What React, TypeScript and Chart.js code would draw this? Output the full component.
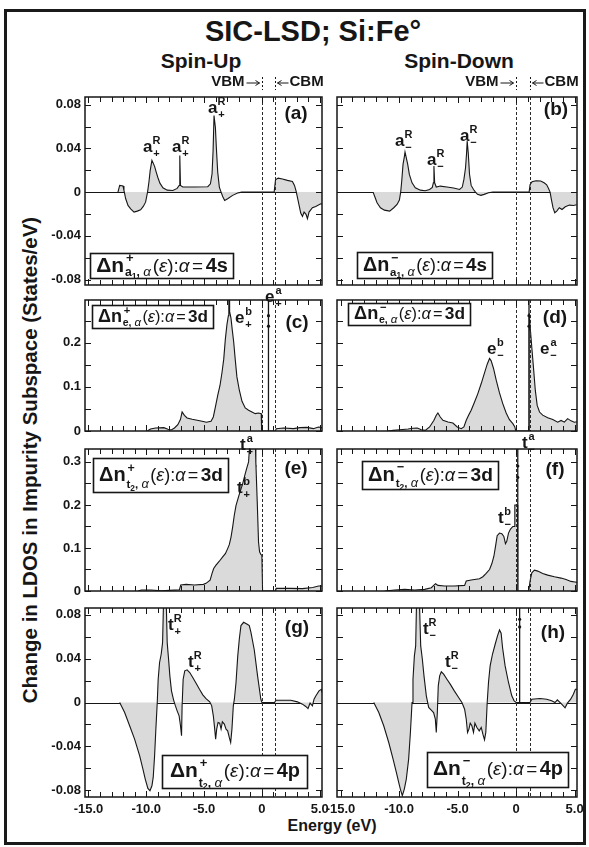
import React, { useEffect, useRef } from 'react';
import { Chart, registerables } from 'chart.js';

Chart.register(...registerables);

type Pt = [number, number];

// ---- shared energy window and band edges (eV) ----
const E_MIN = -15.3;
const E_MAX = 5.2;
const VBM = 0;
const CBM = 1.15;

const ENERGY_TICKS = [-15, -10, -5, 0, 5];
const ENERGY_TICK_TEXT = ['-15.0', '-10.0', '-5.0', '0', '5.0'];

const S_TICKS = [-0.08, -0.04, 0, 0.04, 0.08];
const S_TICK_TEXT = ['-0.08', '-0.04', '0', '0.04', '0.08'];
const E_TICKS = [0, 0.1, 0.2];
const E_TICK_TEXT = ['0', '0.1', '0.2'];
const T_TICKS = [0, 0.1, 0.2, 0.3];
const T_TICK_TEXT = ['0', '0.1', '0.2', '0.3'];

// ---- Δn curves: [energy (eV), states/eV] ----
const a1Up: Pt[] = [
  [-12.45, 0], [-12.3, 0.0061], [-12.01, 0.0055], [-11.93, 0.0015], [-11.78, -0.0061], [-11.58, -0.0122],
  [-11.35, -0.0153], [-11.06, -0.0183], [-10.78, -0.0174], [-10.49, -0.0162], [-10.26, -0.0131], [-10.06, -0.0092],
  [-9.89, 0], [-9.77, 0.0092], [-9.66, 0.0198], [-9.51, 0.029], [-9.4, 0.0265], [-9.28, 0.0235], [-9.14, 0.0183],
  [-8.99, 0.0131], [-8.82, 0.0082], [-8.56, 0.004], [-8.19, 0.0018], [-7.7, 0.0015], [-7.33, 0.0034], [-7.16, 0.006],
  [-7.1, 0.0335], [-7.04, 0.006], [-6.84, 0.0046], [-5.83, 0.0046], [-4.68, 0.0049], [-4.45, 0.0076], [-4.31, 0.0168],
  [-4.22, 0.038], [-4.14, 0.07], [-4.02, 0.059], [-3.94, 0.041], [-3.82, 0.0183], [-3.68, 0.0046], [-3.53, 0],
  [-3.39, -0.004], [-3.22, -0.0076], [-2.96, -0.0061], [-2.53, -0.003], [-2.1, -0.0009], [-1.75, 0], [1.06, 0],
  [1.18, 0.0113], [1.41, 0.0128], [1.78, 0.0119], [2.21, 0.0107], [2.64, 0.0098], [2.82, 0.0061], [2.96, 0.0009],
  [3.07, -0.0046], [3.22, -0.0122], [3.36, -0.0192], [3.51, -0.0223], [3.65, -0.0183], [3.82, -0.0204],
  [3.94, -0.0244], [4.08, -0.0183], [4.37, -0.0143], [4.66, -0.0131], [5.09, -0.0107], [5.2, -0.011],
];

const a1Down: Pt[] = [
  [-12.22, 0], [-12.07, -0.0043], [-11.88, -0.0098], [-11.59, -0.0143], [-11.25, -0.0165], [-10.8, -0.0174],
  [-10.45, -0.0143], [-10.17, -0.0113], [-9.97, -0.0073], [-9.86, 0], [-9.77, 0.0101], [-9.66, 0.0253],
  [-9.55, 0.0323], [-9.49, 0.0366], [-9.38, 0.0314], [-9.26, 0.0253], [-9.12, 0.0162], [-8.89, 0.0085],
  [-8.61, 0.004], [-8.18, 0.0018], [-7.76, 0.0012], [-7.39, 0.0024], [-7.16, 0.0043], [-7.07, 0.0085],
  [-7.02, 0.0238], [-6.96, 0.0085], [-6.82, 0.0046], [-6.48, 0.0055], [-5.91, 0.0046], [-5.34, 0.0037],
  [-4.83, 0.0024], [-4.6, 0.0046], [-4.46, 0.0116], [-4.32, 0.0223], [-4.23, 0.036], [-4.18, 0.0467],
  [-4.09, 0.036], [-3.98, 0.0162], [-3.84, 0.0061], [-3.64, 0.0024], [-3.47, 0], [-3.3, -0.0021], [-3.01, -0.003],
  [-2.73, -0.0021], [-2.36, -0.0006], [-1.99, 0], [1.11, 0], [1.19, 0.0067], [1.36, 0.0095], [1.7, 0.0104],
  [2.1, 0.0101], [2.39, 0.0085], [2.61, 0.0067], [2.78, 0.003], [2.9, 0], [3.01, -0.0067], [3.15, -0.0143],
  [3.3, -0.0189], [3.47, -0.0174], [3.69, -0.0143], [3.92, -0.0159], [4.2, -0.0134], [4.55, -0.0119],
  [4.89, -0.0122], [5.17, -0.0116],
];

const eUp: Pt[] = [
  [-9.91, 0], [-9.63, 0.0045], [-9.2, 0.0068], [-8.48, 0.0076], [-8.13, 0.0038], [-7.84, 0.0023], [-7.56, 0.0068],
  [-7.27, 0.0144], [-7.04, 0.0265], [-6.9, 0.0432], [-6.7, 0.0356], [-6.47, 0.0295], [-6.03, 0.0265], [-5.6, 0.0242],
  [-5.17, 0.022], [-4.8, 0.0197], [-4.4, 0.022], [-4.2, 0.0318], [-4.02, 0.0545], [-3.82, 0.081], [-3.62, 0.1038],
  [-3.45, 0.1326], [-3.3, 0.1629], [-3.16, 0.2083], [-3.02, 0.2417], [-2.9, 0.2614], [-2.86, 0.31], [-2.82, 0.31],
  [-2.79, 0.2705], [-2.67, 0.2553], [-2.56, 0.2288], [-2.44, 0.2023], [-2.3, 0.1606], [-2.16, 0.1227],
  [-1.95, 0.0924], [-1.72, 0.0674], [-1.44, 0.0523], [-1.15, 0.047], [-0.86, 0.0432], [-0.57, 0.0394],
  [-0.29, 0.0409], [-0.06, 0.0394], [-0.02, 0], [1.17, 0], [1.24, 0.0053], [1.87, 0.0068], [2.73, 0.0053],
  [3.3, 0.0076], [3.88, 0.0083], [4.45, 0.0053], [4.89, 0.0091], [5.2, 0.0076],
];

const eDown: Pt[] = [
  [-10.94, 0], [-10.51, 0.0015], [-9.94, 0.003], [-9.23, 0.0045], [-8.81, 0.0061], [-8.44, 0.0068], [-8.1, 0.003],
  [-7.76, 0.0015], [-7.39, 0.0091], [-7.02, 0.0242], [-6.82, 0.0356], [-6.68, 0.0409], [-6.48, 0.0318],
  [-6.25, 0.0242], [-5.82, 0.0205], [-5.4, 0.0182], [-5.03, 0.0091], [-4.69, 0.0053], [-4.46, 0.0091],
  [-4.26, 0.0242], [-4.06, 0.0356], [-3.84, 0.047], [-3.55, 0.0659], [-3.27, 0.0848], [-2.98, 0.1076],
  [-2.7, 0.1318], [-2.47, 0.1515], [-2.27, 0.1644], [-2.13, 0.1591], [-1.93, 0.1417], [-1.7, 0.1152],
  [-1.42, 0.0864], [-1.14, 0.0621], [-0.85, 0.0409], [-0.57, 0.0258], [-0.28, 0.0167], [-0.11, 0.0091],
  [-0.03, 0], [1.1, 0], [1.12, 0.267], [1.22, 0.229], [1.36, 0.183], [1.5, 0.138], [1.64, 0.092], [1.8, 0.058],
  [2.0, 0.043], [2.27, 0.036], [2.7, 0.03], [3.13, 0.026], [3.55, 0.02], [3.84, 0.024], [4.12, 0.02],
  [4.4, 0.028], [4.69, 0.023], [4.97, 0.02], [5.2, 0.021],
];

const t2dUp: Pt[] = [
  [-10.72, 0], [-10.43, 0.0023], [-9.57, 0.0023], [-8.71, 0.0005], [-7.99, 0.0015], [-7.13, 0.003], [-7.02, 0.0138],
  [-6.55, 0.0154], [-5.83, 0.0138], [-5.06, 0.0154], [-4.83, 0.0177], [-4.48, 0.0254], [-4.31, 0.0408],
  [-4.17, 0.0523], [-3.97, 0.06], [-3.68, 0.0692], [-3.39, 0.0792], [-3.16, 0.0869], [-2.96, 0.0985],
  [-2.82, 0.1077], [-2.67, 0.1254], [-2.53, 0.1485], [-2.39, 0.1754], [-2.24, 0.1985], [-2.01, 0.22],
  [-1.81, 0.2369], [-1.67, 0.2485], [-1.49, 0.2677], [-1.32, 0.2846], [-1.15, 0.3], [-1.03, 0.35], [-0.57, 0.35],
  [-0.52, 0.298], [-0.4, 0.206], [-0.29, 0.114], [-0.2, 0.091], [-0.09, 0.085], [0, 0.083], [0.06, 0], [1.2, 0],
  [1.23, 0.006], [2.5, 0.006], [3.5, 0.0055], [4.4, 0.008], [4.9, 0.0115], [5.2, 0.0115],
];

const t2dDown: Pt[] = [
  [-11.22, 0], [-10.37, 0.0023], [-9.52, 0.0038], [-8.66, 0.0023], [-7.81, 0.0038], [-7.24, 0.0077],
  [-7.02, 0.0138], [-6.88, 0.0169], [-6.68, 0.0131], [-6.11, 0.0115], [-5.26, 0.0115], [-4.4, 0.0131],
  [-4.26, 0.0231], [-3.84, 0.0254], [-3.13, 0.0285], [-2.84, 0.0331], [-2.56, 0.0408], [-2.27, 0.05],
  [-2.07, 0.0638], [-1.9, 0.0808], [-1.76, 0.1038], [-1.62, 0.1285], [-1.42, 0.1346], [-1.22, 0.1331],
  [-1.05, 0.1269], [-0.91, 0.11], [-0.8, 0.1154], [-0.65, 0.1346], [-0.48, 0.1438], [-0.28, 0.15], [-0.17, 0.15],
  [-0.11, 0.2], [0.12, 0.2], [0.14, 0], [1.08, 0], [1.19, 0.023], [1.34, 0.0423], [1.56, 0.0485], [1.85, 0.0462],
  [2.27, 0.0408], [2.7, 0.0369], [3.27, 0.0331], [3.84, 0.03], [4.26, 0.0269], [4.69, 0.0223], [5.03, 0.0208],
  [5.2, 0.02],
];

const t2pUp: Pt[] = [
  [-12.3, 0], [-11.87, -0.0091], [-11.44, -0.0212], [-11.01, -0.0333], [-10.57, -0.0485], [-10.29, -0.0606],
  [-10.09, -0.0697], [-9.86, -0.0782], [-9.68, -0.0803], [-9.51, -0.0758], [-9.4, -0.0682], [-9.28, -0.0485],
  [-9.17, -0.0242], [-9.05, 0], [-8.97, 0.0212], [-8.85, 0.0364], [-8.71, 0.0439], [-8.59, 0.0545], [-8.5, 0.095],
  [-8.28, 0.095], [-8.19, 0.0545], [-8.07, 0.0394], [-7.96, 0.0242], [-7.82, 0.0106], [-7.64, 0.0024],
  [-7.5, -0.0024], [-7.33, -0.0076], [-7.16, -0.0121], [-7.04, -0.0212], [-6.95, -0.0303], [-6.9, -0.003],
  [-6.81, 0.0212], [-6.67, 0.0288], [-6.47, 0.0297], [-6.24, 0.0273], [-5.98, 0.0227], [-5.69, 0.0176],
  [-5.4, 0.0121], [-5.11, 0.007], [-4.83, 0.0036], [-4.51, 0.0006], [-4.34, -0.003], [-4.2, -0.0121],
  [-4.08, -0.0242], [-4.0, -0.0333], [-3.91, -0.0242], [-3.79, -0.0182], [-3.65, -0.0188], [-3.53, -0.0242],
  [-3.42, -0.0176], [-3.25, -0.0197], [-3.1, -0.0242], [-2.96, -0.0258], [-2.82, -0.0318], [-2.7, -0.0364],
  [-2.59, -0.0242], [-2.47, -0.003], [-2.38, 0.003], [-2.24, 0.018], [-2.09, 0.042], [-1.95, 0.058], [-1.81, 0.07],
  [-1.58, 0.073], [-1.23, 0.071], [-1.09, 0.07], [-0.95, 0.064], [-0.66, 0.048], [-0.37, 0.024], [-0.09, 0.003],
  [0, 0], [1.1, 0], [1.21, 0.002], [2.5, 0.002], [3.07, 0.0006], [3.51, -0.0015], [3.79, -0.0036], [3.99, -0.0055],
  [4.17, -0.0006], [4.37, -0.003], [4.51, 0.003], [4.66, 0.006], [4.94, 0.0106], [5.14, 0.012], [5.2, 0.009],
];

const t2pDown: Pt[] = [
  [-12.16, 0], [-11.73, -0.0091], [-11.31, -0.0212], [-10.88, -0.0364], [-10.51, -0.0515], [-10.23, -0.0636],
  [-10.03, -0.0727], [-9.89, -0.0788], [-9.72, -0.0848], [-9.55, -0.0788], [-9.38, -0.0697], [-9.18, -0.0515],
  [-9.03, -0.0273], [-8.89, 0], [-8.81, 0.0212], [-8.69, 0.0424], [-8.58, 0.0515], [-8.5, 0.095], [-8.27, 0.095],
  [-8.15, 0.0515], [-8.01, 0.0394], [-7.87, 0.0242], [-7.67, 0.0061], [-7.47, -0.0045], [-7.27, -0.0067],
  [-7.05, -0.0091], [-6.9, -0.0152], [-6.82, -0.0273], [-6.73, -0.0091], [-6.65, 0.0152], [-6.53, 0.0242],
  [-6.39, 0.0279], [-6.19, 0.0258], [-5.91, 0.0212], [-5.63, 0.0167], [-5.28, 0.0106], [-4.91, 0.0045],
  [-4.63, 0], [-4.4, -0.0061], [-4.26, -0.0152], [-4.15, -0.0273], [-4.03, -0.0242], [-3.92, -0.0188],
  [-3.78, -0.0212], [-3.64, -0.0273], [-3.52, -0.0188], [-3.35, -0.0227], [-3.15, -0.0258], [-2.98, -0.0227],
  [-2.84, -0.0288], [-2.7, -0.0339], [-2.59, -0.0273], [-2.47, 0], [-2.36, 0.0182], [-2.22, 0.0333],
  [-2.02, 0.0439], [-1.79, 0.053], [-1.59, 0.0606], [-1.42, 0.066], [-1.28, 0.063], [-1.16, 0.05], [-0.94, 0.0333],
  [-0.65, 0.0182], [-0.37, 0.0061], [-0.17, 0.0015], [0, 0], [1.19, 0], [1.34, 0.003], [2.05, 0.0036],
  [2.61, 0.003], [3.04, 0.0015], [3.32, 0], [3.52, 0.0024], [3.89, -0.0015], [4.18, -0.0048], [4.38, -0.0006],
  [4.66, 0.003], [4.89, 0.0076], [5.06, 0.0121], [5.2, 0.012],
];

// sharp impurity levels (eV) drawn as vertical lines
const eUpLevels = [0.57];
const eDownLevels = [1.1];
const t2dUpLevels = [-0.6];
const t2dDownLevels = [0.14];
const t2pDownLevels = [0.3];

// state labels: anchor at (energy, value) = left edge / baseline of the letter
type Tag = { e: number; v: number; base: string; sup: string; sub: string };
const a1UpTags: Tag[] = [
  { e: -10.28, v: 0.037, base: 'a', sup: 'R', sub: '+' },
  { e: -7.77, v: 0.037, base: 'a', sup: 'R', sub: '+' },
  { e: -4.66, v: 0.0723, base: 'a', sup: 'R', sub: '+' },
];
const a1DownTags: Tag[] = [
  { e: -10.35, v: 0.042, base: 'a', sup: 'R', sub: '\u2212' },
  { e: -7.61, v: 0.0247, base: 'a', sup: 'R', sub: '\u2212' },
  { e: -4.8, v: 0.0467, base: 'a', sup: 'R', sub: '\u2212' },
];
const eUpTags: Tag[] = [
  { e: -2.32, v: 0.245, base: 'e', sup: 'b', sub: '+' },
  { e: 0.27, v: 0.2925, base: 'e', sup: 'a', sub: '+' },
];
const eDownTags: Tag[] = [
  { e: -2.49, v: 0.175, base: 'e', sup: 'b', sub: '\u2212' },
  { e: 2.04, v: 0.175, base: 'e', sup: 'a', sub: '\u2212' },
];
const t2dUpTags: Tag[] = [
  { e: -2.15, v: 0.228, base: 't', sup: 'b', sub: '+' },
  { e: -1.89, v: 0.328, base: 't', sup: 'a', sub: '+' },
];
const t2dDownTags: Tag[] = [
  { e: -1.55, v: 0.158, base: 't', sup: 'b', sub: '\u2212' },
  { e: 0.5, v: 0.332, base: 't', sup: 'a', sub: '\u2212' },
];
const t2pUpTags: Tag[] = [
  { e: -8.12, v: 0.066, base: 't', sup: 'R', sub: '+' },
  { e: -6.39, v: 0.0322, base: 't', sup: 'R', sub: '+' },
];
const t2pDownTags: Tag[] = [
  { e: -7.96, v: 0.062, base: 't', sup: 'R', sub: '\u2212' },
  { e: -6.08, v: 0.032, base: 't', sup: 'R', sub: '\u2212' },
];

// ---- layout ----
const FONT = '"Liberation Sans", Arial, Helvetica, sans-serif';
const bold = (s: number) => `bold ${s}px ${FONT}`;
const plain = (s: number) => `${s}px ${FONT}`;
const ital = (s: number) => `italic ${s}px ${FONT}`;

const COL_L = [85, 337];
const COL_R = [322, 577];
const ROW_T = [97, 300, 449, 608];
const ROW_B = [285, 431, 591, 797];
const Y_AXIS_W = 50;
const X_AXIS_H = 22;
const PAD_T = 28;
const PAD_R = 14;
const PAD_B = 30;

const INK = '#161616';
const FILL = '#dadada';

type BoxSpec = {
  sign: string; orb: 'a1' | 'e' | 't2'; shell: string;
  rect: [number, number, number, number]; baseFrac: number; subDrop: number;
};

type PanelCfg = {
  letter: string; col: number; row: number; curve: Pt[]; levels: number[]; tags: Tag[];
  yMin: number; yMax: number; yStep: number; yTicks: number[]; yText: string[];
  zeroLine: boolean; box: BoxSpec; letterAt: [number, number];
};

const SUBSCRIPT_RUNS: Record<string, [string, number, number, boolean][]> = {
  a1: [['a', 0.58, 0, false], ['1', 0.42, 0.12, false], [', ', 0.58, 0, false], ['\u03b1', 0.64, 0, true]],
  e: [['e', 0.58, 0, false], [', ', 0.58, 0, false], ['\u03b1', 0.64, 0, true]],
  t2: [['t', 0.58, 0, false], ['2', 0.42, 0.12, false], [', ', 0.58, 0, false], ['\u03b1', 0.64, 0, true]],
};

function layoutBox(ctx: CanvasRenderingContext2D, S: number, b: BoxSpec, x0: number, by: number, draw: boolean) {
  let cx = x0;
  const run = (t: string, font: string, dy = 0) => {
    ctx.font = font;
    const w = ctx.measureText(t).width;
    if (draw) ctx.fillText(t, cx, by + dy);
    cx += w;
  };
  run('\u0394n', bold(S));
  cx += S * 0.04;
  const sx0 = cx;
  ctx.font = bold(S * 0.62);
  const supW = ctx.measureText(b.sign).width;
  if (draw) ctx.fillText(b.sign, sx0 + 1, by - S * 0.47);
  let sx = sx0;
  for (const [t, k, dy, it] of SUBSCRIPT_RUNS[b.orb]) {
    ctx.font = it ? ital(S * k) : bold(S * k);
    const w = ctx.measureText(t).width;
    if (draw) ctx.fillText(t, sx, by + b.subDrop * S + dy * S);
    sx += w;
  }
  cx = Math.max(sx0 + supW + 1, sx) + S * 0.08;
  const T = S * 0.9;
  run('(', plain(T)); run('\u03b5', ital(T)); run(')', plain(T)); run(':', plain(T)); run('\u03b1', ital(T));
  cx += S * 0.12; run('=', plain(T)); cx += S * 0.12;
  run(b.shell, bold(S * 0.95));
  return cx - x0;
}

function drawBox(ctx: CanvasRenderingContext2D, left: number, top: number, b: BoxSpec) {
  const [dx, dy, w, h] = b.rect;
  const x = left + dx, y = top + dy;
  ctx.save();
  ctx.fillStyle = '#fff';
  ctx.fillRect(x, y, w, h);
  ctx.lineWidth = 1.6;
  ctx.strokeStyle = INK;
  ctx.strokeRect(x + 0.5, y + 0.5, w, h);
  ctx.fillStyle = INK;
  ctx.textAlign = 'left';
  ctx.textBaseline = 'alphabetic';
  const w20 = layoutBox(ctx, 20, b, 0, 0, false);
  const S = Math.min(21, (20 * (w - 11)) / w20);
  const W = layoutBox(ctx, S, b, 0, 0, false);
  layoutBox(ctx, S, b, x + (w - W) / 2 + 0.5, y + h * b.baseFrac, true);
  ctx.restore();
}

function drawTag(ctx: CanvasRenderingContext2D, px: number, py: number, t: Tag) {
  ctx.textAlign = 'left';
  ctx.textBaseline = 'alphabetic';
  ctx.font = bold(17);
  ctx.fillText(t.base, px, py);
  const w = ctx.measureText(t.base).width;
  ctx.font = bold(11);
  ctx.textAlign = 'center';
  const cx = px + w + 4;
  ctx.fillText(t.sup, cx, py - 8);
  ctx.fillText(t.sub, cx, py + 5);
  ctx.textAlign = 'left';
}

function arrow(ctx: CanvasRenderingContext2D, x1: number, x2: number, y: number) {
  const d = x2 > x1 ? 1 : -1;
  ctx.beginPath();
  ctx.moveTo(x1, y);
  ctx.lineTo(x2, y);
  ctx.moveTo(x2 - d * 4, y - 2.5);
  ctx.lineTo(x2, y);
  ctx.lineTo(x2 - d * 4, y + 2.5);
  ctx.stroke();
}

function makeDecor(cfg: PanelCfg) {
  return {
    id: 'panelDecor',
    beforeDatasetsDraw(chart: any) {
      if (!cfg.zeroLine) return;
      const { ctx, chartArea: a, scales } = chart;
      const y0 = Math.round(scales.y.getPixelForValue(0)) + 0.5;
      ctx.save();
      ctx.strokeStyle = INK;
      ctx.lineWidth = 1;
      ctx.beginPath();
      ctx.moveTo(a.left, y0);
      ctx.lineTo(a.right, y0);
      ctx.stroke();
      ctx.restore();
    },
    afterDatasetsDraw(chart: any) {
      const { ctx, chartArea: a, scales } = chart;
      const { x, y } = scales;
      ctx.save();
      // band edges
      ctx.strokeStyle = '#2a2a2a';
      ctx.lineWidth = 1;
      ctx.setLineDash([3, 2]);
      for (const e of [VBM, CBM]) {
        const px = Math.round(x.getPixelForValue(e)) + 0.5;
        ctx.beginPath();
        ctx.moveTo(px, a.top);
        ctx.lineTo(px, a.bottom);
        ctx.stroke();
      }
      ctx.setLineDash([]);
      // frame and inward ticks
      ctx.strokeStyle = INK;
      ctx.lineWidth = 1.5;
      ctx.strokeRect(a.left, a.top, a.right - a.left, a.bottom - a.top);
      ctx.lineWidth = 1;
      ctx.beginPath();
      for (const t of x.ticks) {
        if (t.value < E_MIN || t.value > E_MAX) continue;
        const px = Math.round(x.getPixelForValue(t.value)) + 0.5;
        const len = Math.abs(t.value % 5) < 1e-9 ? 6 : 5;
        ctx.moveTo(px, a.top); ctx.lineTo(px, a.top + len);
        ctx.moveTo(px, a.bottom); ctx.lineTo(px, a.bottom - len);
      }
      for (const t of y.ticks) {
        if (t.value < cfg.yMin || t.value > cfg.yMax) continue;
        const py = Math.round(y.getPixelForValue(t.value)) + 0.5;
        ctx.moveTo(a.left, py); ctx.lineTo(a.left + 6, py);
        ctx.moveTo(a.right, py); ctx.lineTo(a.right - 6, py);
      }
      ctx.stroke();
      // state labels
      ctx.fillStyle = INK;
      for (const t of cfg.tags) drawTag(ctx, x.getPixelForValue(t.e), y.getPixelForValue(t.v), t);
      // projection box and panel letter
      drawBox(ctx, a.left, a.top, cfg.box);
      ctx.fillStyle = INK;
      ctx.font = bold(19);
      ctx.textAlign = 'center';
      ctx.textBaseline = 'middle';
      ctx.fillText(cfg.letter, a.right - cfg.letterAt[0], a.top + cfg.letterAt[1]);
      // VBM / CBM markers over the top row
      if (cfg.row === 0) {
        const xv = Math.round(x.getPixelForValue(VBM)) + 0.5;
        const xc = Math.round(x.getPixelForValue(CBM)) + 0.5;
        const ty = a.top - 15;
        ctx.font = bold(15);
        ctx.textBaseline = 'middle';
        ctx.textAlign = 'right';
        ctx.fillText('VBM', xv - 18, ty);
        ctx.textAlign = 'left';
        ctx.fillText('CBM', xc + 14, ty);
        ctx.lineWidth = 1;
        arrow(ctx, xv - 16, xv - 3, ty + 1);
        arrow(ctx, xc + 13, xc + 2, ty + 1);
        ctx.setLineDash([2, 2]);
        ctx.beginPath();
        ctx.moveTo(xv, ty - 5); ctx.lineTo(xv, ty + 8);
        ctx.moveTo(xc, ty - 5); ctx.lineTo(xc, ty + 8);
        ctx.stroke();
        ctx.setLineDash([]);
      }
      ctx.restore();
    },
  };
}

const ROW0 = { yMin: -0.085, yMax: 0.087, yStep: 0.02, yTicks: S_TICKS, yText: S_TICK_TEXT, zeroLine: true };
const ROW1 = { yMin: 0, yMax: 0.297, yStep: 0.05, yTicks: E_TICKS, yText: E_TICK_TEXT, zeroLine: false };
const ROW2 = { yMin: 0, yMax: 0.33, yStep: 0.05, yTicks: T_TICKS, yText: T_TICK_TEXT, zeroLine: false };
const ROW3 = { yMin: -0.086, yMax: 0.086, yStep: 0.02, yTicks: S_TICKS, yText: S_TICK_TEXT, zeroLine: true };

const PANELS: PanelCfg[] = [
  { letter: '(a)', col: 0, row: 0, curve: a1Up, levels: [], tags: a1UpTags, ...ROW0,
    box: { sign: '+', orb: 'a1', shell: '4s', rect: [5, 156, 143, 25], baseFrac: 0.74, subDrop: 0.22 }, letterAt: [26, 17] },
  { letter: '(b)', col: 1, row: 0, curve: a1Down, levels: [], tags: a1DownTags, ...ROW0,
    box: { sign: '\u2212', orb: 'a1', shell: '4s', rect: [20, 155, 135, 26], baseFrac: 0.74, subDrop: 0.22 }, letterAt: [21, 13] },
  { letter: '(c)', col: 0, row: 1, curve: eUp, levels: eUpLevels, tags: eUpTags, ...ROW1,
    box: { sign: '+', orb: 'e', shell: '3d', rect: [7, 5, 121, 23], baseFrac: 0.74, subDrop: 0.22 }, letterAt: [25, 23] },
  { letter: '(d)', col: 1, row: 1, curve: eDown, levels: eDownLevels, tags: eDownTags, ...ROW1,
    box: { sign: '\u2212', orb: 'e', shell: '3d', rect: [11, 3, 122, 22], baseFrac: 0.74, subDrop: 0.22 }, letterAt: [22, 18] },
  { letter: '(e)', col: 0, row: 2, curve: t2dUp, levels: t2dUpLevels, tags: t2dUpTags, ...ROW2,
    box: { sign: '+', orb: 't2', shell: '3d', rect: [8, 9, 135, 34], baseFrac: 0.68, subDrop: 0.36 }, letterAt: [26, 20] },
  { letter: '(f)', col: 1, row: 2, curve: t2dDown, levels: t2dDownLevels, tags: t2dDownTags, ...ROW2,
    box: { sign: '\u2212', orb: 't2', shell: '3d', rect: [25, 12, 136, 28], baseFrac: 0.7, subDrop: 0.34 }, letterAt: [22, 21] },
  { letter: '(g)', col: 0, row: 3, curve: t2pUp, levels: [], tags: t2pUpTags, ...ROW3,
    box: { sign: '+', orb: 't2', shell: '4p', rect: [77, 147, 145, 33], baseFrac: 0.66, subDrop: 0.48 }, letterAt: [25, 20] },
  { letter: '(h)', col: 1, row: 3, curve: t2pDown, levels: t2pDownLevels, tags: t2pDownTags, ...ROW3,
    box: { sign: '\u2212', orb: 't2', shell: '4p', rect: [90, 144, 141, 35], baseFrac: 0.66, subDrop: 0.48 }, letterAt: [24, 25] },
];

function labelFor(v: number, ticks: number[], text: string[]) {
  const i = ticks.findIndex((t) => Math.abs(t - v) < 1e-9);
  return i >= 0 ? text[i] : '';
}

function Panel({ cfg }: { cfg: PanelCfg }) {
  const ref = useRef<HTMLCanvasElement>(null);
  const L = COL_L[cfg.col], R = COL_R[cfg.col], T = ROW_T[cfg.row], B = ROW_B[cfg.row];
  const bottomRow = cfg.row === 3;
  const width = R - L + Y_AXIS_W + PAD_R;
  const height = B - T + PAD_T + PAD_B;

  useEffect(() => {
    const tickFont = { family: FONT, size: 13, weight: 'bold' as const };
    const datasets: any[] = [
      {
        data: cfg.curve.map(([e, v]) => ({ x: e, y: v })),
        borderColor: INK, borderWidth: 1.1, backgroundColor: FILL, fill: 'origin',
        pointRadius: 0, tension: 0,
      },
      ...cfg.levels.map((e) => ({
        data: [0, cfg.yMax * 0.8, cfg.yMax * 0.88, cfg.yMax].map((v) => ({ x: e, y: v })),
        borderColor: INK, borderWidth: 1.3, fill: false, tension: 0,
        pointRadius: [0, 1.6, 1.6, 0], pointBackgroundColor: INK, pointBorderWidth: 0,
      })),
    ];
    const chart = new Chart(ref.current as HTMLCanvasElement, {
      type: 'line',
      data: { datasets },
      options: {
        animation: false,
        responsive: false,
        events: [],
        layout: { padding: { left: 0, top: PAD_T, right: PAD_R, bottom: bottomRow ? PAD_B - X_AXIS_H : PAD_B } },
        plugins: { legend: { display: false }, tooltip: { enabled: false } },
        scales: {
          x: {
            type: 'linear', min: E_MIN, max: E_MAX,
            grid: { display: false, drawTicks: false }, border: { display: false },
            ticks: {
              display: bottomRow, stepSize: 1, includeBounds: false, autoSkip: false, maxRotation: 0,
              padding: 5, color: INK, font: tickFont,
              callback: (v: any) => labelFor(Number(v), ENERGY_TICKS, ENERGY_TICK_TEXT),
            },
            afterFit: (s: any) => { s.height = bottomRow ? X_AXIS_H : 0; },
          },
          y: {
            type: 'linear', min: cfg.yMin, max: cfg.yMax,
            grid: { display: false, drawTicks: false }, border: { display: false },
            ticks: {
              display: cfg.col === 0, stepSize: cfg.yStep, includeBounds: false, autoSkip: false,
              padding: 4, color: INK, font: tickFont,
              callback: (v: any) => labelFor(Number(v), cfg.yTicks, cfg.yText),
            },
            afterFit: (s: any) => { s.width = Y_AXIS_W; },
          },
        },
      } as any,
      plugins: [makeDecor(cfg) as any],
    });
    return () => chart.destroy();
  }, [cfg]);

  return (
    <canvas
      ref={ref}
      width={width}
      height={height}
      style={{ position: 'absolute', left: L - Y_AXIS_W, top: T - PAD_T, width, height }}
    />
  );
}

function Text({ x, y, size, children, rotate }: { x: number; y: number; size: number; children: React.ReactNode; rotate?: boolean }) {
  return (
    <div
      style={{
        position: 'absolute', left: x, top: y, whiteSpace: 'nowrap', lineHeight: 1,
        font: bold(size), color: INK,
        transform: `translate(-50%, -50%)${rotate ? ' rotate(-90deg)' : ''}`,
      }}
    >
      {children}
    </div>
  );
}

export default function App() {
  return (
    <div style={{ position: 'absolute', left: 0, top: 0, width: 589, height: 847, background: '#fff', overflow: 'hidden' }}>
      <div
        style={{
          position: 'absolute', left: 4, top: 9, width: 582, height: 836,
          border: '3px solid #1a1a1a', boxSizing: 'border-box',
        }}
      />
      <Text x={313} y={31} size={29}>SIC-LSD; Si:Fe°</Text>
      <Text x={201} y={61} size={21}>Spin-Up</Text>
      <Text x={459} y={61} size={21}>Spin-Down</Text>
      <Text x={30} y={460} size={20.5} rotate>Change in LDOS in Impurity Subspace (States/eV)</Text>
      <Text x={332} y={826} size={16}>Energy (eV)</Text>
      {PANELS.map((p) => (
        <Panel key={p.letter} cfg={p} />
      ))}
    </div>
  );
}
